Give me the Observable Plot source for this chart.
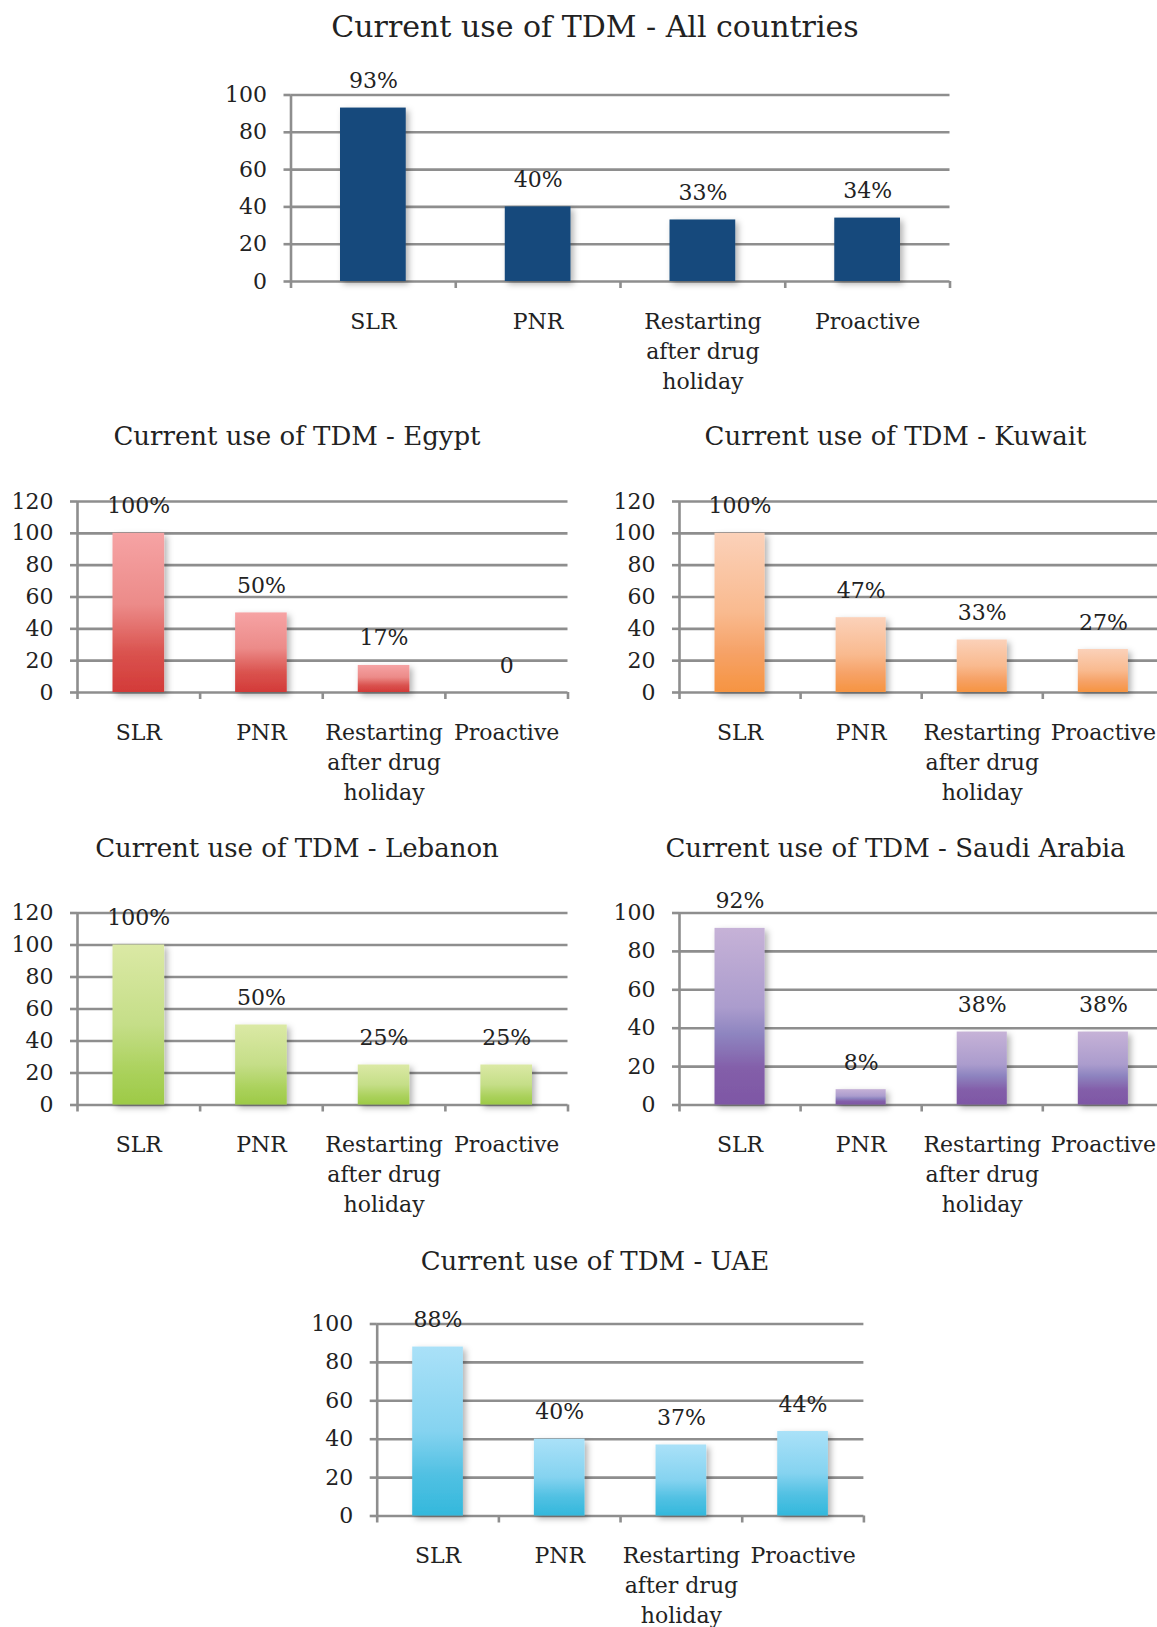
<!DOCTYPE html>
<html>
<head>
<meta charset="utf-8">
<script src="https://cdn.jsdelivr.net/npm/d3@7"></script>
<script src="https://cdn.jsdelivr.net/npm/@observablehq/plot@0.6"></script>
<style>
  html, body { margin: 0; padding: 0; background: #fff; }
  #page { position: relative; width: 1157px; height: 1627px; overflow: hidden; background: #fff; }
  .title { position: absolute; transform: translate(-50%, -50%); white-space: nowrap; line-height: 1;
           font-family: "DejaVu Serif", serif; color: #222; }
  .holder { position: absolute; }
  .holder svg { max-width: none !important; }
</style>
</head>
<body>
<div id="page"></div>
<script>
// ---------------- data ----------------
const categories = ["SLR", "PNR", "Restarting\nafter drug\nholiday", "Proactive"];

const allValues     = [93, 40, 33, 34];
const allLabels     = ["93%", "40%", "33%", "34%"];
const egyptValues   = [100, 50, 17, 0];
const egyptLabels   = ["100%", "50%", "17%", "0"];
const kuwaitValues  = [100, 47, 33, 27];
const kuwaitLabels  = ["100%", "47%", "33%", "27%"];
const lebanonValues = [100, 50, 25, 25];
const lebanonLabels = ["100%", "50%", "25%", "25%"];
const saudiValues   = [92, 8, 38, 38];
const saudiLabels   = ["92%", "8%", "38%", "38%"];
const uaeValues     = [88, 40, 37, 44];
const uaeLabels     = ["88%", "40%", "37%", "44%"];

const ticks100 = [0, 20, 40, 60, 80, 100];
const ticks120 = [0, 20, 40, 60, 80, 100, 120];

const titles = {
  all: "Current use of TDM - All countries",
  egypt: "Current use of TDM - Egypt",
  kuwait: "Current use of TDM - Kuwait",
  lebanon: "Current use of TDM - Lebanon",
  saudi: "Current use of TDM - Saudi Arabia",
  uae: "Current use of TDM - UAE"
};

// ---------------- styles ----------------
const GRID = "#8e8e8e";
const TEXT = "#222";
const gradients = {
  all:     [[0, "#174a7c"], [1, "#174a7c"]],
  egypt:   [[0, "#f6a3a4"], [0.45, "#ec8b89"], [0.75, "#da534f"], [1, "#d33a38"]],
  kuwait:  [[0, "#fbd1b9"], [0.5, "#f9ba8f"], [0.75, "#f6a267"], [1, "#f69441"]],
  lebanon: [[0, "#dbe9a5"], [0.5, "#c5de88"], [0.8, "#aad15b"], [1, "#9dca47"]],
  saudi:   [[0, "#c6b2d7"], [0.45, "#ab9ccd"], [0.6, "#8e85c0"], [0.8, "#835ea9"], [1, "#7e57a5"]],
  uae:     [[0, "#aae1f8"], [0.5, "#85d3f0"], [0.75, "#52c1e3"], [1, "#33b8dc"]]
};

const page = document.getElementById("page");

function addTitle(text, cx, cy, size) {
  const d = document.createElement("div");
  d.className = "title";
  d.textContent = text;
  d.style.left = cx + "px";
  d.style.top = cy + "px";
  d.style.fontSize = size + "px";
  page.appendChild(d);
}

function makeChart(key, values, labels, ticks, L) {
  const ymax = ticks[ticks.length - 1];
  const svgW = L.svgW, svgH = L.svgH;
  const plot = Plot.plot({
    width: svgW,
    height: svgH,
    marginLeft: L.frameLeft - L.svgLeft,
    marginRight: L.svgLeft + svgW - L.frameRight,
    marginTop: L.yTop - L.svgTop,
    marginBottom: L.svgTop + svgH - L.y0,
    x: {type: "linear", domain: [0, categories.length], axis: null},
    y: {domain: [0, ymax], axis: null},
    style: {fontFamily: "DejaVu Serif, serif", fontSize: "22px", color: TEXT, background: "transparent", overflow: "visible", maxWidth: "none"},
    marks: [
      Plot.ruleY(ticks, {stroke: GRID, strokeWidth: 2.6}),
      Plot.axisY({ticks, tickSize: 7, tickPadding: 17, stroke: GRID, strokeWidth: 2.6, fill: TEXT, tickFormat: d => String(d)}),
      Plot.axisX({ticks: d3.range(categories.length + 1), tickSize: 7, tickFormat: () => "", stroke: GRID, strokeWidth: 2.6}),
      Plot.rectY(values, {
        x1: (d, i) => i, x2: (d, i) => i + 1, y: d => d,
        insetLeft: L.inset, insetRight: L.inset,
        fill: `url(#grad-${key})`
      }),
      Plot.ruleX([0], {stroke: GRID, strokeWidth: 2.6}),
      Plot.text(values, {x: (d, i) => i + 0.5, y: d => d, text: (d, i) => labels[i], dy: -27, fill: TEXT}),
      Plot.text(categories, {x: (d, i) => i + 0.5, frameAnchor: "bottom", lineAnchor: "top", dy: 26, lineHeight: 1.36, text: d => d, fill: TEXT})
    ]
  });
  plot.style.maxWidth = "none";
  // gradient + shadow defs
  const ns = "http://www.w3.org/2000/svg";
  const defs = document.createElementNS(ns, "defs");
  const lg = document.createElementNS(ns, "linearGradient");
  lg.setAttribute("id", `grad-${key}`);
  lg.setAttribute("x1", "0"); lg.setAttribute("y1", "0");
  lg.setAttribute("x2", "0"); lg.setAttribute("y2", "1");
  for (const [o, c] of gradients[key]) {
    const s = document.createElementNS(ns, "stop");
    s.setAttribute("offset", o);
    s.setAttribute("stop-color", c);
    lg.appendChild(s);
  }
  defs.appendChild(lg);
  const f = document.createElementNS(ns, "filter");
  f.setAttribute("id", `shadow-${key}`);
  f.setAttribute("x", "-30%"); f.setAttribute("y", "-10%");
  f.setAttribute("width", "170%"); f.setAttribute("height", "130%");
  const ds = document.createElementNS(ns, "feDropShadow");
  ds.setAttribute("dx", "3"); ds.setAttribute("dy", "3");
  ds.setAttribute("stdDeviation", "3");
  ds.setAttribute("flood-color", "#000");
  ds.setAttribute("flood-opacity", "0.3");
  f.appendChild(ds);
  defs.appendChild(f);
  plot.insertBefore(defs, plot.firstChild);
  plot.querySelectorAll("rect").forEach(r => {
    if ((r.getAttribute("fill") || "").startsWith("url(#grad")) r.setAttribute("filter", `url(#shadow-${key})`);
  });
  plot.querySelectorAll("g").forEach(g => {
    if ((g.getAttribute("fill") || "").startsWith("url(#grad")) g.setAttribute("filter", `url(#shadow-${key})`);
  });
  const holder = document.createElement("div");
  holder.className = "holder";
  holder.style.left = L.svgLeft + "px";
  holder.style.top = L.svgTop + "px";
  holder.style.width = svgW + "px";
  holder.style.height = svgH + "px";
  holder.appendChild(plot);
  page.appendChild(holder);
}

// ---------------- layout ----------------
addTitle(titles.all, 595, 26.5, 30);
makeChart("all", allValues, allLabels, ticks100,
  {svgLeft: 0, svgTop: 55, svgW: 1157, svgH: 345, frameLeft: 290.5, frameRight: 949.5, yTop: 94.5, y0: 281, inset: 49.5});

addTitle(titles.egypt, 297, 436, 26);
makeChart("egypt", egyptValues, egyptLabels, ticks120,
  {svgLeft: 0, svgTop: 462, svgW: 578, svgH: 350, frameLeft: 77, frameRight: 567.5, yTop: 501, y0: 692, inset: 35.5});

addTitle(titles.kuwait, 895.5, 436, 26);
makeChart("kuwait", kuwaitValues, kuwaitLabels, ticks120,
  {svgLeft: 578, svgTop: 462, svgW: 592, svgH: 350, frameLeft: 679, frameRight: 1163.4, yTop: 501, y0: 692, inset: 35.5});

addTitle(titles.lebanon, 297, 848, 26);
makeChart("lebanon", lebanonValues, lebanonLabels, ticks120,
  {svgLeft: 0, svgTop: 872, svgW: 578, svgH: 350, frameLeft: 77, frameRight: 567.5, yTop: 912.5, y0: 1104.5, inset: 35.5});

addTitle(titles.saudi, 895.5, 848, 26);
makeChart("saudi", saudiValues, saudiLabels, ticks100,
  {svgLeft: 578, svgTop: 872, svgW: 592, svgH: 350, frameLeft: 679, frameRight: 1163.4, yTop: 912.5, y0: 1104.5, inset: 35.5});

addTitle(titles.uae, 595, 1260.5, 26);
makeChart("uae", uaeValues, uaeLabels, ticks100,
  {svgLeft: 0, svgTop: 1284, svgW: 1157, svgH: 343, frameLeft: 376.7, frameRight: 863.4, yTop: 1323.5, y0: 1515.5, inset: 35.5});
</script>
</body>
</html>
